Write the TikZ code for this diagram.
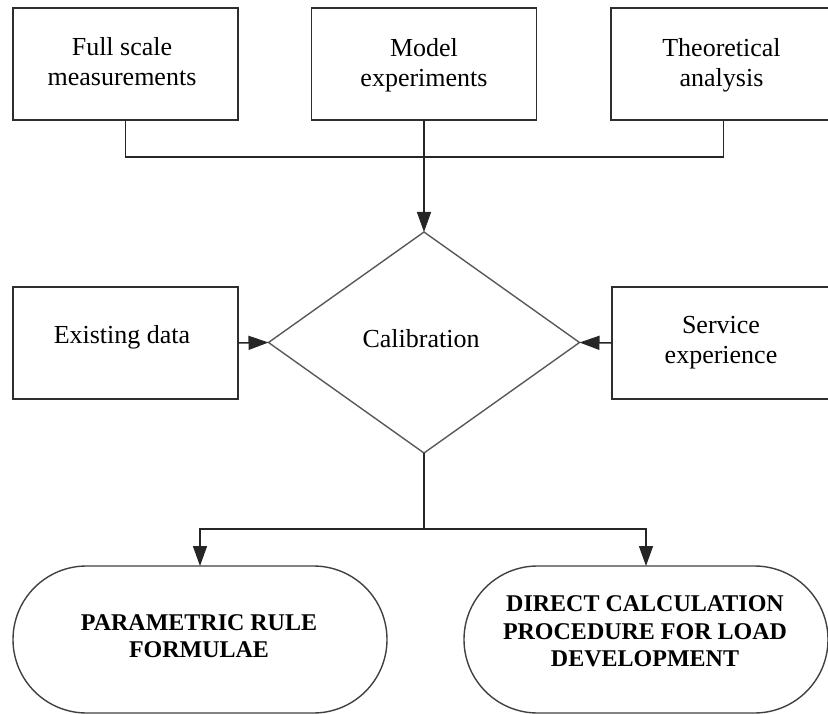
\documentclass[tikz,border=0pt]{standalone}
\usepackage{fontspec}
\setmainfont{Liberation Serif}
\usetikzlibrary{arrows.meta,shapes.geometric,shapes.misc}

\begin{document}
\begin{tikzpicture}[x=1pt,y=-1pt,
  every node/.style={inner sep=0pt, outer sep=0pt},
  box/.style={draw=black!82, line width=1.6pt, rectangle,
    minimum width=225pt, minimum height=112pt},
  decision/.style={draw=black!65, line width=1.4pt, diamond,
    minimum width=311pt, minimum height=221pt},
  terminal/.style={draw=black!75, line width=1.4pt, rounded rectangle,
    minimum height=147pt},
  txt/.style={align=center, font=\fontsize{26}{30}\selectfont},
  bigtxt/.style={align=center, font=\fontsize{24}{27.5}\selectfont\bfseries},
  wire/.style={draw=black!85, line width=1.5pt},
  arr/.style={wire, -{Triangle[length=20pt,width=14pt]}}
]
\useasboundingbox (0,0) rectangle (828,714);
\clip (0,0) rectangle (828,714);

% sources of information
\node[box] (full)   at (125.5,64) {};
\node[box] (model)  at (424,64)   {};
\node[box] (theory) at (723.5,64) {};
\node[txt] (fulltxt)   at (122,62.1)  {Full scale\\measurements};
\node[txt] (modeltxt)  at (424,64.9)  {Model\\experiments};
\node[txt] (theorytxt) at (721.5,64.9) {Theoretical\\analysis};

% calibration stage
\node[decision] (calib) at (424,342.5) {};
\node[box] (exist)   at (125.5,343) {};
\node[box] (service) at (724.5,343) {};
\node[txt] (calibtxt)   at (421,339.1) {Calibration};
\node[txt] (existtxt)   at (122,336.9) {Existing data};
\node[txt] (servicetxt) at (721,342.2) {Service\\experience};

% resulting procedures
\node[terminal, minimum width=374pt] (param)  at (200,639.5) {};
\node[terminal, minimum width=364pt] (direct) at (646,639.5) {};
\node[bigtxt] (paramtxt)  at (199,636)   {PARAMETRIC RULE\\FORMULAE};
\node[bigtxt] (directtxt) at (645,631.5) {DIRECT CALCULATION\\PROCEDURE FOR LOAD\\DEVELOPMENT};

% connectors
\coordinate (bus) at (424,157);
\draw[wire] (full.south) -- (full.south |- bus) -- (theory.south |- bus) -- (theory.south);
\draw[arr] (model.south) -- (calib.north);
\draw[arr] (exist.east) -- (calib.west);
\draw[arr] (service.west) -- (calib.east);
\coordinate (split) at (424,529);
\draw[wire] (calib.south) -- (split);
\draw[arr] (split) -| (param.north);
\draw[arr] (split) -| (direct.north);
\end{tikzpicture}
\end{document}
